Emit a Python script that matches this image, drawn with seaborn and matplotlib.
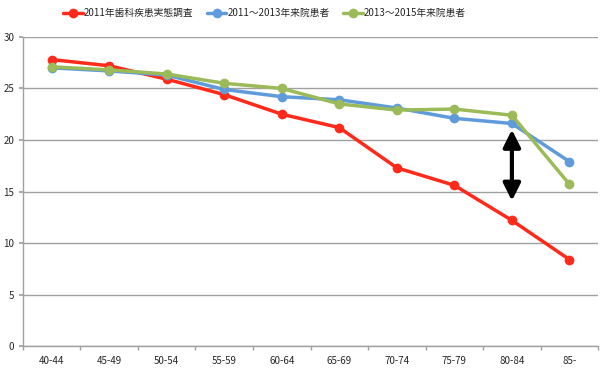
import matplotlib
matplotlib.use("Agg")
import matplotlib.pyplot as plt
import seaborn as sns
import pandas as pd
import numpy as np

# データ
age_groups = ['40-44', '45-49', '50-54', '55-59', '60-64',
              '65-69', '70-74', '75-79', '80-84', '85-']
survey_2011 = [27.8, 27.2, 25.9, 24.4, 22.5, 21.2, 17.3, 15.6, 12.2, 8.4]
visits_2011_2013 = [27.0, 26.7, 26.3, 24.9, 24.2, 23.9, 23.1, 22.1, 21.6, 17.9]
visits_2013_2015 = [27.1, 26.8, 26.4, 25.5, 25.0, 23.5, 22.9, 23.0, 22.4, 15.7]
series_names = ['2011年歯科疾患実態調査', '2011～2013年来院患者', '2013～2015年来院患者']
colors = ['#FF2A1A', '#5F9BDB', '#9BBB59']

df = pd.concat([
    pd.DataFrame({'age': age_groups, 'teeth': vals, 'series': name})
    for name, vals in zip(series_names, [survey_2011, visits_2011_2013, visits_2013_2015])
])
df['x'] = df['age'].map({a: i for i, a in enumerate(age_groups)})

sns.set_theme(style='white')
plt.rcParams['font.family'] = ['Noto Sans CJK JP', 'DejaVu Sans']

fig = plt.figure(figsize=(6, 3.69), dpi=100)
ax = fig.add_axes([0.038, 0.062, 0.959, 0.838])

sns.lineplot(data=df, x='x', y='teeth', hue='series', hue_order=series_names,
             palette=colors, marker='o', markersize=7, linewidth=2.5,
             markeredgewidth=0, ax=ax)

# 80-84 の差を示す矢印
ax.annotate('', xy=(8, 14.1), xytext=(8, 21.0),
            arrowprops=dict(arrowstyle='<|-|>', color='black', lw=3,
                            mutation_scale=26, shrinkA=0, shrinkB=0))

ax.set_xlim(-0.5, 9.5)
ax.set_ylim(0, 30)
ax.set_yticks(range(0, 31, 5))
ax.set_xticks(range(len(age_groups)))
ax.set_xticklabels(age_groups)
ax.set_xticks(np.arange(-0.5, 10, 1), minor=True)
ax.tick_params(axis='x', which='major', length=0, labelsize=7, pad=7)
ax.tick_params(axis='x', which='minor', length=3, color='#A0A0A0', direction='out', bottom=True)
ax.tick_params(axis='y', length=3, color='#A0A0A0', labelsize=7, pad=3, left=True, direction='out')
ax.set_xlabel('')
ax.set_ylabel('')
ax.yaxis.grid(True, color='#A0A0A0', lw=1)
ax.set_axisbelow(True)
for side in ['top', 'right']:
    ax.spines[side].set_visible(False)
for side in ['left', 'bottom']:
    ax.spines[side].set_color('#A0A0A0')
    ax.spines[side].set_linewidth(1)

handles, labels = ax.get_legend_handles_labels()
ax.legend(handles, labels, loc='center', bbox_to_anchor=(0.42, 1.077), ncol=3,
          frameon=False, fontsize=7, handlelength=2.0, handletextpad=0.1,
          columnspacing=1.4)

fig.savefig('out.png', dpi=100)
